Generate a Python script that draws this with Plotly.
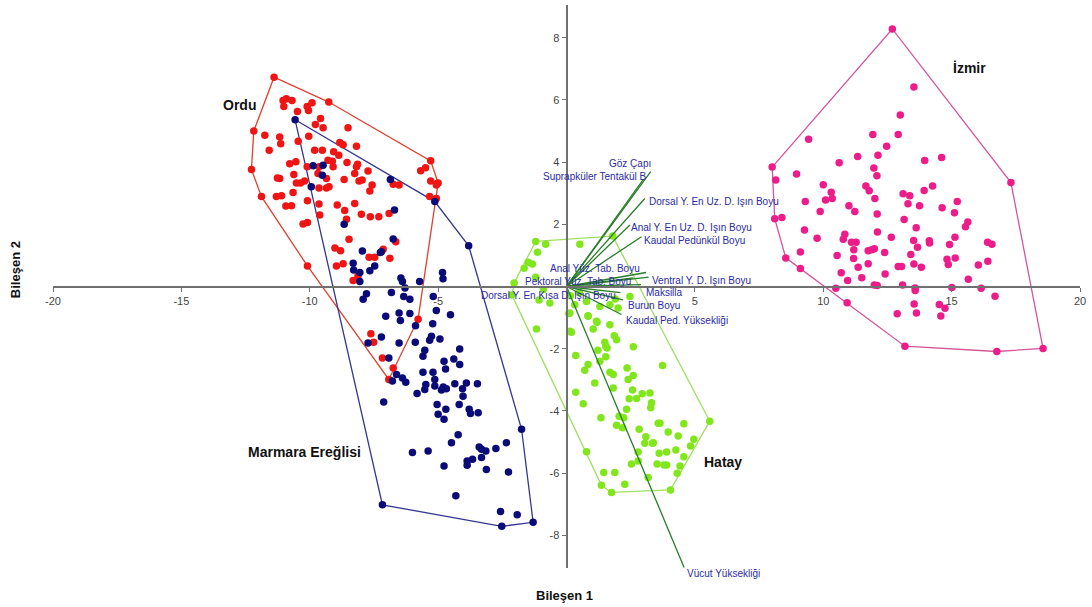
import plotly.graph_objects as go

# ---------------- data (PCA scores, Bileşen 1 / Bileşen 2) ----------------
ordu_x = [-11.39, -9.26, -5.29, -5.04, -5.07, -12.18, -12.27, -11.88,
          -11.04, -10.91, -10.69, -11.01, -10.48, -10.10, -9.91, -10.05,
          -9.58, -9.78, -9.48, -11.75, -11.17, -11.13, -10.04, -10.45,
          -8.51, -8.83, -8.70, -8.18, -11.58, -9.81, -9.51, -9.07,
          -8.87, -9.29, -9.12, -10.78, -10.54, -10.10, -8.55, -8.14,
          -8.18, -9.64, -9.09, -7.73, -10.62, -11.26, -11.17, -9.68,
          -9.35, -10.52, -10.36, -10.20, -8.66, -8.25, -8.08, -7.96,
          -7.57, -7.66, -9.35, -9.25, -9.64, -10.65, -11.30, -11.10,
          -10.09, -10.93, -10.71, -9.64, -8.93, -8.64, -8.25, -7.99,
          -7.64, -7.31, -6.91, -9.61, -8.57, -10.26, -10.09,
          -6.75, -6.52, -5.68, -5.49, -5.33, -5.29, -5.07, -5.00,
          -6.65, -9.02, -8.80, -7.14, -8.47,
          -10.09, -8.96, -8.70, -8.12, -8.31, -7.69, -7.47, -6.88,
          -5.78, -7.62, -7.51, -7.17, -6.75, -6.92]
ordu_y = [6.73, 5.93, 4.04, 3.31, 2.83, 5.00, 3.76, 2.89,
          5.98, 6.04, 5.98, 5.79, 5.63, 5.79, 5.91, 5.66,
          5.40, 5.21, 5.10, 4.86, 4.81, 4.59, 4.83, 4.67,
          5.10, 4.63, 4.56, 4.51, 4.38, 4.38, 4.38, 4.33,
          4.22, 4.06, 4.03, 3.95, 4.01, 3.85, 3.99, 3.93,
          3.85, 3.85, 3.85, 3.71, 3.60, 3.49, 3.47, 3.63,
          3.47, 3.33, 3.33, 3.39, 3.44, 3.63, 3.39, 3.42,
          3.26, 3.07, 3.17, 3.21, 3.17, 3.02, 2.89, 2.92,
          2.76, 2.59, 2.60, 2.65, 2.62, 2.44, 2.67, 2.32,
          2.24, 2.24, 2.35, 2.30, 2.16, 2.01, 2.06,
          3.29, 3.26, 3.72, 3.82, 2.89, 3.39, 3.26, 3.33,
          1.44, 1.24, 1.15, 1.20, 1.52,
          0.66, 0.66, 0.73, 0.34, 0.19, 0.94, 0.94, 0.91,
          -1.05, -1.52, -1.79, -2.30, -2.62, -2.99]

marmara_x = [-10.57, -9.87, -9.48, -9.51, -9.94, -6.86, -6.70, -8.66, -6.75, -7.95, -7.25, -5.13, -3.81,
             -8.31, -8.29, -8.05, -8.05, -7.66, -7.47, -7.21, -6.45, -6.39, -5.72, -4.83, -4.81,
             -6.82, -6.29, -6.34, -6.10, -5.19, -7.92, -7.79, -7.04, -6.52, -6.47, -6.10, -5.07,
             -4.52, -5.21, -5.88, -7.21, -7.73, -6.52, -5.89, -5.33, -5.26, -4.93, -5.59, -5.52,
             -6.92, -4.16, -4.39, -4.16, -4.77, -4.71, -5.20, -5.59, -6.78, -6.62, -6.39, -6.26,
             -5.82, -5.52, -5.48, -5.13, -5.13, -4.87, -4.80, -4.68, -4.35, -3.90, -4.05, -4.03,
             -3.47, -4.18, -5.04, -4.70, -5.00, -4.77, -3.79, -3.74, -3.44, -7.12, -1.75, -4.22,
             -4.48, -6.00, -5.39, -4.77, -3.87, -3.87, -3.66, -3.40, -3.31, -3.14, -3.31, -3.12,
             -2.75, -2.34, -2.26, -4.31, -7.17, -2.57, -1.92, -2.52, -1.30]
marmara_y = [5.36, 3.88, 3.90, 3.58, 3.21, 3.44, 2.46, 2.00, 1.53, 1.14, 1.09, 2.73, 1.31,
             0.75, 0.53, 0.45, 0.16, 0.51, 0.66, 1.12, 0.27, 0.16, 0.16, 0.45, 0.25,
             -0.19, -0.05, -0.32, -0.41, -0.32, -0.41, -0.23, -0.96, -0.85, -1.09, -0.87, -0.77,
             -0.91, -1.20, -1.26, -1.62, -1.82, -1.82, -1.79, -1.73, -1.60, -1.69, -2.24, -2.05,
             -2.30, -2.01, -2.33, -2.51, -2.40, -2.65, -2.76, -2.76, -3.04, -2.83, -2.94, -3.08,
             -3.44, -3.31, -3.15, -2.99, -3.20, -3.33, -3.23, -3.29, -3.13, -3.10, -3.29, -3.53,
             -3.13, -3.79, -3.79, -3.95, -4.11, -4.27, -3.95, -4.08, -4.06, -3.71, -4.59, -4.77,
             -5.02, -5.34, -5.29, -5.77, -5.61, -5.75, -5.55, -5.16, -5.23, -5.29, -5.50, -5.88,
             -5.21, -5.02, -5.96, -6.73, -7.02, -7.23, -7.34, -7.71, -7.58]

hatay_x = [-1.20, 1.80, -0.81, -1.13, 0.52, -1.49, -1.65, -1.33, -2.04, -2.13, -1.20, -0.90,
           -1.07, -0.65, 0.15, 0.32, 0.78, 0.84, 1.17, 0.13, 1.30, 1.69, 2.01, 2.47, 1.90, 0.50,
           -1.17, 0.09, 0.13, 0.19, 0.84, 1.19, 1.04, 1.69, 1.86, 1.95, 1.49, 1.53, 1.58, 1.22,
           2.60, 0.36, 1.53, 1.30, 0.84, 0.71, 1.69, 1.82, 2.36, 2.40, 2.60, 3.74, 1.10, 1.82,
           0.36, 2.57, 2.44, 2.73, 2.95, 3.25, 3.31, 3.28, 0.65, 2.34, 2.05, 2.23, 1.34, 1.95,
           2.18, 2.83, 3.57, 3.64, 4.57, 5.58, 3.96, 3.09, 4.35, 3.05, 3.35, 3.38, 4.96, 4.83,
           0.78, 2.79, 3.61, 3.90, 4.26, 4.57, 2.79, 2.53, 3.53, 3.80, 3.90, 4.42, 4.31, 1.45,
           1.88, 3.18, 1.36, 2.27, 1.75, 4.05]
hatay_y = [1.45, 1.62, 1.36, 1.10, 1.36, 0.78, 0.59, 0.72, 0.11, -0.27, 0.30, -0.10,
           -0.43, -0.53, -0.30, -0.59, -0.48, -0.96, -1.12, -0.85, -0.64, -0.59, -0.69, -0.32, -0.40, -0.20,
           -1.37, -0.87, -1.44, -1.47, -0.94, -1.15, -1.37, -1.23, -1.58, -1.71, -1.79, -1.92, -1.98, -2.05,
           -1.94, -2.22, -2.26, -2.40, -2.51, -2.69, -2.76, -2.83, -2.62, -2.99, -2.86, -2.54, -3.10, -3.26,
           -3.40, -3.33, -3.61, -3.60, -3.45, -3.42, -3.74, -3.90, -3.77, -3.95, -4.17, -4.22, -4.22, -4.46,
           -4.54, -4.59, -4.40, -4.40, -4.41, -4.33, -4.68, -4.83, -4.81, -5.04, -5.04, -5.02, -4.91, -5.13,
           -5.31, -5.32, -5.36, -5.32, -5.26, -5.47, -5.61, -5.71, -5.71, -5.74, -5.74, -5.77, -6.00, -5.98,
           -5.98, -6.14, -6.39, -6.36, -6.62, -6.54]

izmir_x = [12.69, 13.53, 13.00, 12.92, 11.93, 9.43, 12.47, 11.34, 12.13, 13.95, 14.61, 10.62,
           8.01, 11.97, 12.09, 8.96, 8.15, 17.31, 10.00, 11.66, 11.79, 14.26, 13.93, 10.31,
           13.11, 13.37, 12.01, 10.09, 10.35, 9.30, 13.30, 13.75, 15.22, 11.00, 11.23, 9.88,
           12.10, 14.63, 15.11, 8.11, 8.39, 13.15, 15.63, 15.54, 9.27, 12.11, 13.62, 9.76,
           10.84, 10.78, 12.65, 13.52, 15.13, 11.10, 11.28, 14.13, 14.14, 16.40, 16.57, 9.11,
           11.19, 11.75, 11.89, 11.99, 12.39, 13.67, 14.92, 8.54, 10.54, 11.18, 13.41, 14.82,
           15.14, 16.41, 9.11, 11.36, 11.75, 12.92, 13.05, 13.53, 13.82, 14.87, 16.04, 10.70,
           11.50, 10.95, 12.41, 11.99, 12.10, 13.09, 15.65, 10.49, 13.58, 13.58, 15.01, 16.15,
           16.69, 10.93, 13.54, 12.88, 13.63, 14.52, 14.74, 14.58, 13.18, 16.76, 18.56]
izmir_y = [8.28, 6.41, 5.51, 4.89, 4.89, 4.73, 4.51, 4.18, 4.22, 4.05, 4.15, 3.98,
           3.84, 3.81, 3.56, 3.62, 3.42, 3.34, 3.27, 3.23, 3.08, 3.23, 3.09, 3.03,
           2.98, 2.92, 2.83, 2.78, 2.83, 2.73, 2.66, 2.60, 2.73, 2.60, 2.41, 2.41,
           2.33, 2.53, 2.37, 2.18, 2.22, 2.15, 2.07, 1.92, 1.82, 1.75, 1.89, 1.55,
           1.68, 1.52, 1.58, 1.48, 1.58, 1.42, 1.42, 1.47, 1.40, 1.42, 1.36, 1.11,
           1.18, 1.15, 1.18, 1.21, 1.09, 1.26, 1.35, 0.92, 1.00, 0.90, 1.03, 0.88,
           0.92, 0.81, 0.58, 0.62, 0.73, 0.64, 0.64, 0.72, 0.62, 0.71, 0.69, 0.44,
           0.28, 0.19, 0.40, 0.05, 0.03, 0.05, 0.23, -0.06, -0.05, -0.13, -0.03, -0.06,
           -0.31, -0.52, -0.56, -0.88, -0.85, -0.58, -0.70, -0.95, -1.92, -2.09, -1.99]

loading_names = ["Göz Çapı", "Suprapküler Tentakül B", "Dorsal Y. En Uz. D. Işın Boyu",
                 "Anal Y. En Uz. D. Işın Boyu", "Kaudal Pedünkül Boyu", "Anal Yüz. Tab. Boyu",
                 "Pektoral Yüz. Tab. Boyu", "Ventral Y. D. Işın Boyu", "Maksilla",
                 "Dorsal Y. En Kısa D. Işın Boyu", "Burun Boyu", "Kaudal Ped. Yüksekliği",
                 "Vücut Yüksekliği"]
loading_x = [3.28, 3.00, 3.05, 2.47, 2.92, 3.10, 2.60, 3.20, 2.90, 2.10, 2.20, 2.14, 4.58]
loading_y = [3.69, 3.45, 2.83, 1.98, 1.60, 0.45, 0.28, 0.30, 0.06, -0.20, -0.43, -0.90, -9.03]

x_ticks = [-20, -15, -10, -5, 5, 10, 15, 20]
y_ticks = [-8, -6, -4, -2, 2, 4, 6, 8]
x_title = "Bileşen 1"
y_title = "Bileşen 2"

# ---------------- styling ----------------
X_RANGE = [-20, 20]
Y_RANGE = [-9.05, 9.05]
FONT = "Liberation Sans"
LABEL_BLUE = "#2b2ba3"
VEC_GREEN = "#2a7d2a"

groups = [
    # name, xs, ys, point colour, hull colour, label position (data units)
    ("Ordu", ordu_x, ordu_y, "#f01414", "#e0402e", (-12.73, 5.82)),
    ("Marmara Ereğlisi", marmara_x, marmara_y, "#0b0b78", "#36368f", (-10.19, -5.33)),
    ("Hatay", hatay_x, hatay_y, "#82e61c", "#9fe061", (6.09, -5.65)),
    ("İzmir", izmir_x, izmir_y, "#ec1c8a", "#d4559a", (15.68, 7.04)),
]

# label placement for loading vectors: xanchor, xshift, yshift (pixels)
label_style = {
    "Göz Çapı": ("right", 2, 8),
    "Suprapküler Tentakül B": ("right", 5, 3),
    "Dorsal Y. En Uz. D. Işın Boyu": ("left", 2, -3),
    "Anal Y. En Uz. D. Işın Boyu": ("left", -1, -3),
    "Kaudal Pedünkül Boyu": ("left", 1, -4),
    "Anal Yüz. Tab. Boyu": ("right", -4, 4),
    "Pektoral Yüz. Tab. Boyu": ("right", 0, -4),
    "Ventral Y. D. Işın Boyu": ("left", 1, -3),
    "Maksilla": ("left", 3, -8),
    "Dorsal Y. En Kısa D. Işın Boyu": ("right", -2, -3),
    "Burun Boyu": ("left", 3, -6),
    "Kaudal Ped. Yüksekliği": ("left", 3, -6),
    "Vücut Yüksekliği": ("left", 1, -6),
}


def convex_hull(xs, ys):
    pts = sorted(set(zip(xs, ys)))

    def cross(o, a, b):
        return (a[0] - o[0]) * (b[1] - o[1]) - (a[1] - o[1]) * (b[0] - o[0])

    lower = []
    for p in pts:
        while len(lower) >= 2 and cross(lower[-2], lower[-1], p) <= 0:
            lower.pop()
        lower.append(p)
    upper = []
    for p in reversed(pts):
        while len(upper) >= 2 and cross(upper[-2], upper[-1], p) <= 0:
            upper.pop()
        upper.append(p)
    h = lower[:-1] + upper[:-1]
    h.append(h[0])
    return [p[0] for p in h], [p[1] for p in h]


fig = go.Figure()

# hulls
for name, xs, ys, pc, hc, _ in groups:
    hx, hy = convex_hull(xs, ys)
    fig.add_trace(go.Scatter(x=hx, y=hy, mode="lines", line=dict(color=hc, width=1.3),
                             hoverinfo="skip", showlegend=False))

# points
for name, xs, ys, pc, hc, _ in groups:
    fig.add_trace(go.Scatter(x=xs, y=ys, mode="markers", name=name,
                             marker=dict(color=pc, size=7.5, line=dict(width=0)),
                             showlegend=False))

# loading vectors
vx, vy = [], []
for lx, ly in zip(loading_x, loading_y):
    vx += [0, lx, None]
    vy += [0, ly, None]
fig.add_trace(go.Scatter(x=vx, y=vy, mode="lines", line=dict(color=VEC_GREEN, width=1.3),
                         hoverinfo="skip", showlegend=False))

annotations = []
for n, lx, ly in zip(loading_names, loading_x, loading_y):
    xa, xs_, ys_ = label_style[n]
    annotations.append(dict(x=lx, y=ly, xref="x", yref="y", text=n, showarrow=False,
                            xanchor=xa, yanchor="middle", xshift=xs_, yshift=ys_,
                            font=dict(family=FONT, size=10, color=LABEL_BLUE)))

for name, xs, ys, pc, hc, (gx, gy) in groups:
    annotations.append(dict(x=gx, y=gy, xref="x", yref="y", text="<b>%s</b>" % name,
                            showarrow=False, xanchor="center", yanchor="middle",
                            font=dict(family=FONT, size=14, color="#111111")))

annotations.append(dict(x=0.4985, y=-0.048, xref="paper", yref="paper", text="<b>%s</b>" % x_title,
                        showarrow=False, xanchor="center", yanchor="middle",
                        font=dict(family=FONT, size=13, color="#111111")))
annotations.append(dict(x=-0.037, y=0.529, xref="paper", yref="paper", text="<b>%s</b>" % y_title,
                        showarrow=False, textangle=-90, xanchor="center", yanchor="middle",
                        font=dict(family=FONT, size=13, color="#111111")))

x_zero_frac = (0 - Y_RANGE[0]) / (Y_RANGE[1] - Y_RANGE[0])
y_zero_frac = (0 - X_RANGE[0]) / (X_RANGE[1] - X_RANGE[0])

fig.update_layout(
    width=1092, height=607,
    margin=dict(l=53, r=12, t=5, b=39),
    plot_bgcolor="white", paper_bgcolor="white",
    showlegend=False,
    annotations=annotations,
    xaxis=dict(range=X_RANGE, anchor="free", position=x_zero_frac, showline=True,
               linecolor="#707070", linewidth=2, showgrid=False, zeroline=False,
               ticks="outside", ticklen=4, tickcolor="#707070", tickwidth=1,
               tickvals=x_ticks, ticktext=[str(v) for v in x_ticks],
               tickfont=dict(family=FONT, size=11, color="#444444")),
    yaxis=dict(range=Y_RANGE, anchor="free", position=y_zero_frac, showline=True,
               linecolor="#707070", linewidth=2, showgrid=False, zeroline=False,
               ticks="outside", ticklen=4, tickcolor="#707070", tickwidth=1,
               tickvals=y_ticks, ticktext=[str(v) for v in y_ticks],
               tickfont=dict(family=FONT, size=11, color="#444444")),
)

fig.write_html("out.html")
